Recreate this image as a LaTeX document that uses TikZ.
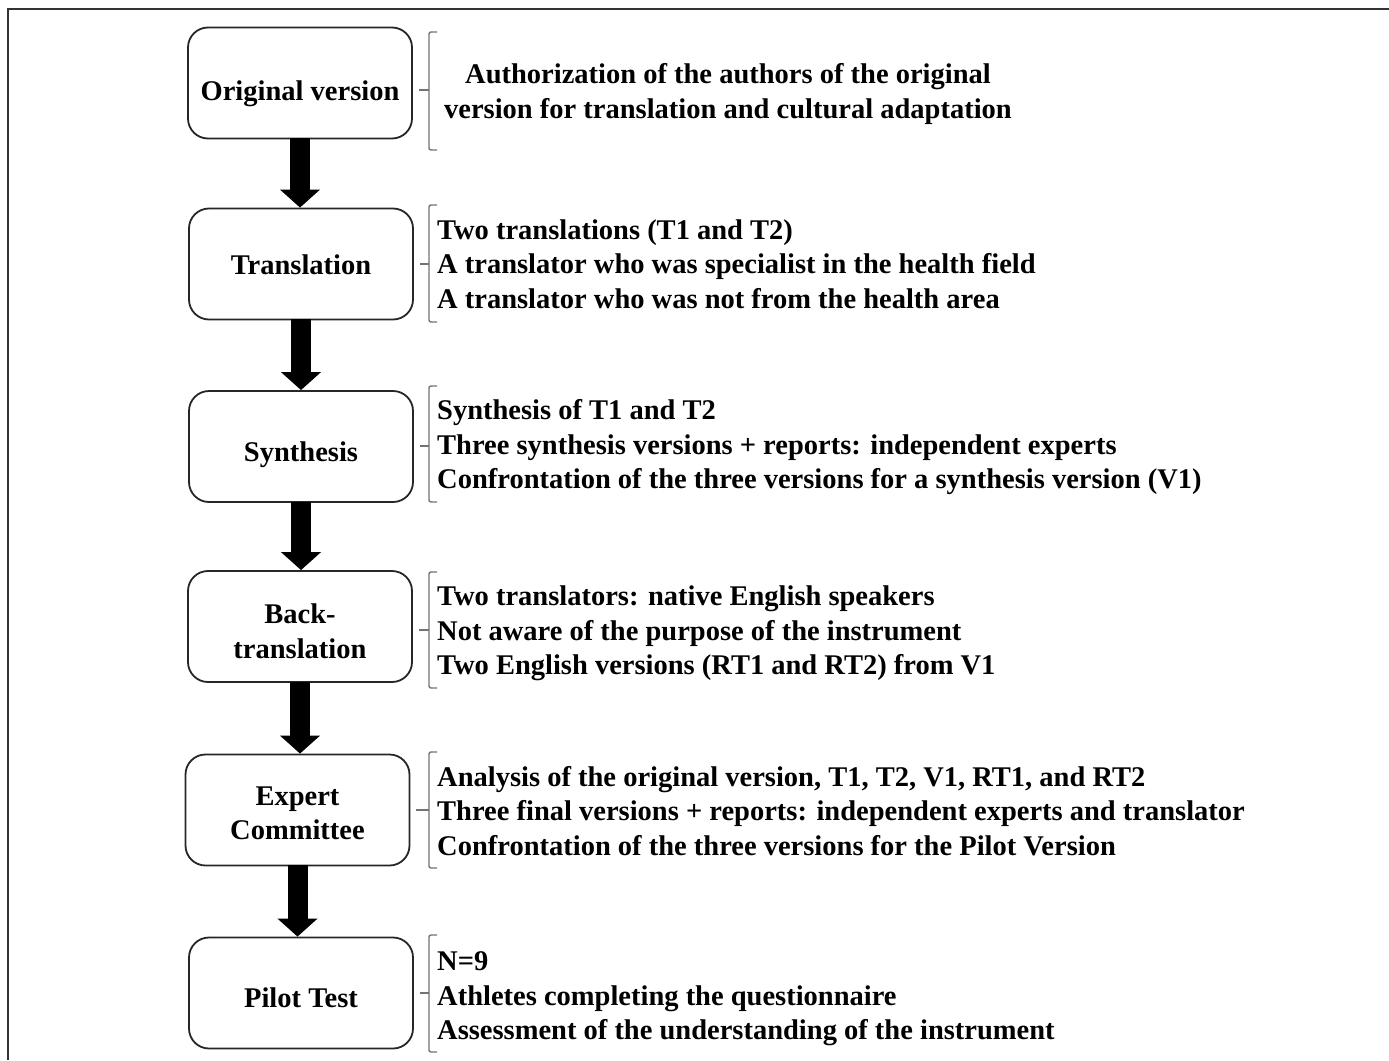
\documentclass[tikz,border=0pt]{standalone}
\usepackage{fontspec}
\setmainfont{Liberation Serif}
\usetikzlibrary{arrows.meta}
\tikzset{
  stagebox/.style={draw=black!85, line width=1.8pt, rounded corners=20pt, minimum width=224pt, minimum height=111pt, inner sep=0pt},
  boxtext/.style={align=center, inner sep=0pt, font=\fontsize{28.5}{34.5}\selectfont\bfseries},
  desc/.style={inner sep=0pt, font=\fontsize{28.5}{34.5}\selectfont\bfseries},
  bigarrow/.style={line width=20pt, draw=black, -{Triangle[width=39pt,length=18pt]}, shorten <=-1pt},
  brk/.style={draw=black!55, line width=1.4pt, rounded corners=2pt},
  frame/.style={draw=black!80, line width=2.2pt}
}
\begin{document}
\begin{tikzpicture}[x=1pt,y=-1pt]
\useasboundingbox (0,0) rectangle (1389,1060);
\draw[frame] (8,1060) -- (8,9) -- (1389,9);

\node[stagebox] (b1) at (300,83) {};
\node[stagebox] (b2) at (301,264) {};
\node[stagebox] (b3) at (301,446.5) {};
\node[stagebox] (b4) at (300,626.5) {};
\node[stagebox] (b5) at (297.5,810) {};
\node[stagebox] (b6) at (301,993) {};

\node[boxtext, anchor=base] (t1) at (300,100) {Original version};
\node[boxtext, anchor=base] (t2) at (301,274) {Translation};
\node[boxtext, anchor=base] (t3) at (301,461) {Synthesis};
\node[boxtext] (t4) at (300,631) {Back-\\translation};
\node[boxtext] (t5) at (297.5,813.5) {Expert\\Committee};
\node[boxtext, anchor=base] (t6) at (301,1007) {Pilot Test};

\draw[bigarrow] (b1.south) -- (b1.south |- b2.north);
\draw[bigarrow] (b2.south) -- (b2.south |- b3.north);
\draw[bigarrow] (b3.south) -- (b3.south |- b4.north);
\draw[bigarrow] (b4.south) -- (b4.south |- b5.north);
\draw[bigarrow] (b5.south) -- (b5.south |- b6.north);

\node[desc, align=center] (d1) at (728,94) {Authorization of the authors of the original\\version for translation and cultural adaptation};
\node[desc, align=left, anchor=west] (d2) at (437,264) {Two translations (T1 and T2)\\A translator who was specialist in the health field\\A translator who was not from the health area};
\node[desc, align=left, anchor=west] (d3) at (437,447.5) {Synthesis of T1 and T2\\Three synthesis versions + reports: independent experts\\Confrontation of the three versions for a synthesis version (V1)};
\node[desc, align=left, anchor=west] (d4) at (437,633.5) {Two translators: native English speakers\\Not aware of the purpose of the instrument\\Two English versions (RT1 and RT2) from V1};
\node[desc, align=left, anchor=west] (d5) at (437,811) {Analysis of the original version, T1, T2, V1, RT1, and RT2\\Three final versions + reports: independent experts and translator\\Confrontation of the three versions for the Pilot Version};
\node[desc, align=left, anchor=west] (d6) at (437,999) {N=9\\Athletes completing the questionnaire\\Assessment of the understanding of the instrument};

\coordinate (k1) at (429,90);
\coordinate (k2) at (429,264);
\coordinate (k3) at (429,446);
\coordinate (k4) at (429,630);
\coordinate (k5) at (429,810);
\coordinate (k6) at (429,993);
\draw[brk] (b1.east |- k1) ++(6,0) -- (k1);
\draw[brk] (b2.east |- k2) ++(6,0) -- (k2);
\draw[brk] (b3.east |- k3) ++(6,0) -- (k3);
\draw[brk] (b4.east |- k4) ++(6,0) -- (k4);
\draw[brk] (b5.east |- k5) ++(6,0) -- (k5);
\draw[brk] (b6.east |- k6) ++(6,0) -- (k6);

\draw[brk] (437,32) -- (429,32) -- (429,150) -- (437,150);
\draw[brk] (437,205) -- (429,205) -- (429,322) -- (437,322);
\draw[brk] (437,386) -- (429,386) -- (429,502) -- (437,502);
\draw[brk] (437,572) -- (429,572) -- (429,688) -- (437,688);
\draw[brk] (437,752) -- (429,752) -- (429,868) -- (437,868);
\draw[brk] (437,935) -- (429,935) -- (429,1052) -- (437,1052);
\end{tikzpicture}
\end{document}
